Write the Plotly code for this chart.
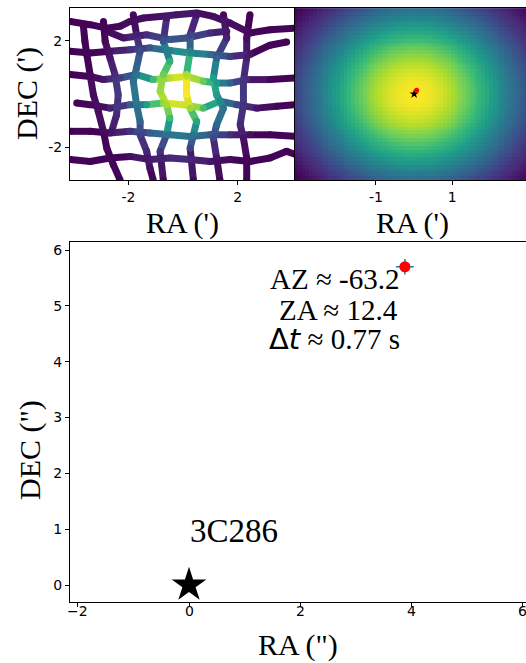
import numpy as np
import plotly.graph_objects as go
from plotly.colors import sample_colorscale

W, H = 526, 663

# ---------------- data ----------------
# scan tracks (arcmin)
ROW_A_RA = [-4.13, -3.40, -2.79, -2.30, -1.94, -1.45, -0.84, -0.23, 0.50, 1.11, 1.72, 2.45, 3.18, 4.13]
ROW_A_DEC = [2.72, 2.60, 2.47, 2.54, 2.72, 2.85, 2.91, 2.97, 3.04, 2.91, 2.66, 2.29, 2.41, 2.47]
ROW_B_RA = [-2.79, -2.18, -1.33, -0.48, 0.13, 0.99, 1.60]
ROW_B_DEC = [2.35, 2.10, 2.22, 2.04, 2.10, 2.29, 2.35]
ROW_C_RA = [-4.13, -3.40, -2.67, -1.94, -1.21, -0.48, 0.26, 0.99, 1.72, 2.45, 3.18, 3.79]
ROW_C_DEC = [1.60, 1.54, 1.60, 1.66, 1.73, 1.63, 1.54, 1.48, 1.41, 1.48, 1.83, 1.95]
ROW_D_RA = [-4.13, -3.40, -2.91, -2.30, -1.70, -1.09, -0.48, 0.13, 0.74, 1.23, 1.72, 2.33, 3.18, 4.13]
ROW_D_DEC = [0.73, 0.66, 0.54, 0.60, 0.73, 0.54, 0.60, 0.66, 0.48, 0.41, 0.41, 0.54, 0.54, 0.60]
ROW_E_RA = [-3.89, -3.40, -2.67, -1.94, -1.33, -0.72, 0.01, 0.74, 1.35, 1.96, 2.70, 3.43, 4.13]
ROW_E_DEC = [-0.34, -0.40, -0.53, -0.40, -0.40, -0.34, -0.40, -0.53, -0.27, -0.40, -0.53, -0.46, -0.40]
ROW_F_RA = [-4.13, -3.40, -2.67, -1.94, -1.21, -0.48, 0.26, 0.99, 1.72, 2.45, 3.18, 4.13]
ROW_F_DEC = [-1.40, -1.40, -1.46, -1.40, -1.46, -1.53, -1.59, -1.53, -1.53, -1.53, -1.53, -1.59]
ROW_G_RA = [-4.13, -3.40, -2.67, -1.94, -1.21, -0.48, 0.26, 0.99, 1.72, 2.45, 3.18, 3.79, 4.13]
ROW_G_DEC = [-2.46, -2.53, -2.40, -2.34, -2.46, -2.40, -2.46, -2.53, -2.46, -2.53, -2.40, -2.15, -2.27]

COL_1_RA = [-3.65, -3.59, -3.52, -3.40, -3.28, -3.10, -2.91, -2.79, -2.55, -2.30]
COL_1_DEC = [2.60, 1.98, 1.48, 0.73, -0.03, -0.65, -1.40, -2.03, -2.65, -3.23]
COL_2_RA = [-2.91, -2.85, -2.67, -2.49, -2.37, -2.43, -2.61]
COL_2_DEC = [2.72, 1.98, 1.35, 0.73, -0.03, -0.78, -1.40]
COL_3_RA = [-1.82, -1.70, -1.57, -1.70, -1.82, -1.70, -1.57, -1.57, -1.33, -1.21, -1.09]
COL_3_DEC = [2.97, 2.22, 1.60, 0.98, 0.48, -0.40, -1.03, -1.53, -2.15, -2.78, -3.23]
COL_4_RA = [-0.60, -0.72, -0.48, -0.72, -0.84, -0.60, -0.48, -0.60, -0.84, -0.72]
COL_4_DEC = [2.85, 1.98, 1.23, 0.73, 0.10, -0.40, -0.90, -1.53, -2.15, -3.23]
COL_5_RA = [0.50, 0.26, 0.26, 0.13, 0.13, 0.26, 0.50, 0.38, 0.26, 0.38]
COL_5_DEC = [2.97, 2.22, 1.60, 0.73, -0.03, -0.53, -1.03, -1.53, -2.03, -3.23]
COL_6_RA = [1.48, 1.60, 1.23, 1.11, 1.23, 1.48, 1.23, 1.11, 1.23, 1.35]
COL_6_DEC = [2.97, 2.10, 1.35, 0.60, -0.03, -0.53, -1.15, -1.65, -2.40, -3.23]
COL_7_RA = [2.45, 2.33, 2.33, 2.21, 2.21, 2.09, 2.21, 2.33, 2.33]
COL_7_DEC = [2.97, 2.10, 1.35, 0.48, -0.40, -1.15, -1.65, -2.40, -3.23]

# beam model parameters (arcmin)
SCAN_BEAM_X0, SCAN_BEAM_Y0, SCAN_BEAM_SIGMA = -0.1, 0.1, 1.2
MAP_SIGMA_RA, MAP_SIGMA_DEC = 2.1, 1.8
MAP_RA = [round(-3.1 + 0.1 * i, 2) for i in range(63)]
MAP_DEC = [round(-2.2 + 0.1 * j, 2) for j in range(45)]

# fitted pointing offset (arcsec) and errors
OFF_RA = [3.89]
OFF_DEC = [5.70]
ERR_RA = [0.16]
ERR_DEC = [0.14]
SRC_NAME = "3C286"
AZ_TXT = "AZ ≈ -63.2"
ZA_TXT = "ZA ≈ 12.4"
DT_TXT = "0.77 s"

# tick labels
TOP_LEFT_TICKS = [-2, 2]
TOP_RIGHT_TICKS = [-1, 1]
BOTTOM_X_TICKS = [-2, 0, 2, 4, 6]
BOTTOM_Y_TICKS = [0, 1, 2, 3, 4, 5, 6]

# ---------------- helpers ----------------
def px(x):
    return x / W


def py(y):
    return 1 - y / H


fig = go.Figure()

# --- scan pattern (top-left) ---
tracks = [
    (ROW_A_RA, ROW_A_DEC), (ROW_B_RA, ROW_B_DEC), (ROW_C_RA, ROW_C_DEC), (ROW_D_RA, ROW_D_DEC),
    (ROW_E_RA, ROW_E_DEC), (ROW_F_RA, ROW_F_DEC), (ROW_G_RA, ROW_G_DEC),
    (COL_1_RA, COL_1_DEC), (COL_2_RA, COL_2_DEC), (COL_3_RA, COL_3_DEC), (COL_4_RA, COL_4_DEC),
    (COL_5_RA, COL_5_DEC), (COL_6_RA, COL_6_DEC), (COL_7_RA, COL_7_DEC),
]


def beam(x, y):
    return np.exp(-((x - SCAN_BEAM_X0) ** 2 + (y - SCAN_BEAM_Y0) ** 2) / (2 * SCAN_BEAM_SIGMA ** 2))


segs = []
pts_x, pts_y, pts_v = [], [], []
for xs_, ys_ in tracks:
    p = list(zip(xs_, ys_))
    for (x0, y0), (x1, y1) in zip(p[:-1], p[1:]):
        segs.append((x0, y0, x1, y1, beam((x0 + x1) / 2, (y0 + y1) / 2)))
    for x, y in p:
        pts_x.append(x)
        pts_y.append(y)
        pts_v.append(beam(x, y))

vmin = min(min(s[4] for s in segs), min(pts_v))
vmax = max(max(s[4] for s in segs), max(pts_v))
NB = 40
bins = [[] for _ in range(NB)]
for s in segs:
    t = (s[4] - vmin) / (vmax - vmin)
    bins[min(NB - 1, int(t * NB))].append(s)
for b, ss in enumerate(bins):
    if not ss:
        continue
    xs, ys = [], []
    for x0, y0, x1, y1, _ in ss:
        xs += [x0, x1, None]
        ys += [y0, y1, None]
    col = sample_colorscale("Viridis", [(b + 0.5) / NB])[0]
    fig.add_trace(go.Scatter(x=xs, y=ys, mode="lines", line=dict(color=col, width=7),
                             xaxis="x", yaxis="y", showlegend=False, hoverinfo="skip"))
fig.add_trace(go.Scatter(x=pts_x, y=pts_y, mode="markers",
                         marker=dict(size=7, color=pts_v, colorscale="Viridis", cmin=vmin, cmax=vmax,
                                     line=dict(width=0)),
                         xaxis="x", yaxis="y", showlegend=False, hoverinfo="skip"))

# --- beam map (top-right) ---
RAg, DECg = np.meshgrid(np.array(MAP_RA), np.array(MAP_DEC))
Z = np.exp(-RAg ** 2 / (2 * MAP_SIGMA_RA ** 2) - DECg ** 2 / (2 * MAP_SIGMA_DEC ** 2))
fig.add_trace(go.Heatmap(x=MAP_RA, y=MAP_DEC, z=Z, colorscale="Viridis", showscale=False,
                         zmin=float(Z.min()), zmax=float(Z.max()),
                         xaxis="x2", yaxis="y2", hoverinfo="skip"))
fig.add_trace(go.Scatter(x=[0], y=[0], mode="markers",
                         marker=dict(symbol="star", size=7, color="black"),
                         xaxis="x2", yaxis="y2", showlegend=False))
fig.add_trace(go.Scatter(x=[v / 60 for v in OFF_RA], y=[v / 60 for v in OFF_DEC], mode="markers",
                         marker=dict(size=5, color="red"),
                         xaxis="x2", yaxis="y2", showlegend=False))

# --- offset plot (bottom) ---
fig.add_trace(go.Scatter(x=[0], y=[0], mode="markers",
                         marker=dict(symbol="star", size=26, color="black"),
                         xaxis="x3", yaxis="y3", showlegend=False))
fig.add_trace(go.Scatter(x=OFF_RA, y=OFF_DEC, mode="markers",
                         marker=dict(size=11, color="red"),
                         error_x=dict(type="data", array=ERR_RA, color="#1f77b4", thickness=1.5, width=0),
                         error_y=dict(type="data", array=ERR_DEC, color="#1f77b4", thickness=1.5, width=0),
                         xaxis="x3", yaxis="y3", showlegend=False))

tickfont = dict(family="DejaVu Sans", size=14, color="black")
common = dict(showgrid=False, zeroline=False, ticks="outside", ticklen=4, tickwidth=1, tickcolor="black",
              showline=True, linecolor="black", linewidth=1, tickfont=tickfont, ticklabeloverflow="allow")


def hy(v):
    return str(v)


def mn(v):
    return ("−" + str(abs(v))) if v < 0 else str(v)


fig.update_layout(
    width=W, height=H, margin=dict(l=0, r=0, t=0, b=0),
    paper_bgcolor="white", plot_bgcolor="white",
    xaxis=dict(domain=[px(70), px(294)], range=[-4.135, 4.06], tickvals=TOP_LEFT_TICKS,
               ticktext=[hy(v) for v in TOP_LEFT_TICKS], mirror=True, anchor="y", **common),
    yaxis=dict(domain=[py(180), py(8)], range=[-3.225, 3.225], tickvals=TOP_LEFT_TICKS,
               ticktext=[hy(v) for v in TOP_LEFT_TICKS], mirror=True, anchor="x", **common),
    xaxis2=dict(domain=[px(295), 1], range=[-3.12, 2.93], tickvals=TOP_RIGHT_TICKS,
                ticktext=[hy(v) for v in TOP_RIGHT_TICKS], mirror=True, anchor="y2", **common),
    yaxis2=dict(domain=[py(180), py(8)], range=[-2.253, 2.253], showticklabels=False,
                anchor="x2", **{k: v for k, v in common.items() if k != "ticks"}, ticks=""),
    xaxis3=dict(domain=[px(70), 1], range=[-2.144, 6.072], tickvals=BOTTOM_X_TICKS,
                showticklabels=False, mirror=True, anchor="y3", **common),
    yaxis3=dict(domain=[py(601.7), py(242.3)], range=[-0.299, 6.138], tickvals=BOTTOM_Y_TICKS,
                ticktext=[mn(v) for v in BOTTOM_Y_TICKS], anchor="x3", **common),
)

serif = "Liberation Serif"
ann = []


def add_text(text, x, y, size, angle=0, xanchor="center"):
    ann.append(dict(text=text, x=px(x), y=py(y), xref="paper", yref="paper", showarrow=False,
                    xanchor=xanchor, yanchor="middle", textangle=angle,
                    font=dict(family=serif, size=size, color="black")))


# bottom x tick labels placed close to the axis, as in the reference
for v in BOTTOM_X_TICKS:
    ann.append(dict(text=mn(v), x=v, xref="x3", y=py(611), yref="paper", showarrow=False,
                    xanchor="center", yanchor="middle", font=tickfont))

add_text("RA (')", 182, 223, 30)
add_text("RA (')", 412, 223, 30)
add_text("DEC (')", 27, 94, 30, angle=-90)
add_text('RA (")', 298, 645, 30)
add_text('DEC (")', 30, 450, 30, angle=-90)
add_text(AZ_TXT, 334, 279, 29)
add_text(ZA_TXT, 338, 310, 29)
add_text("<span style='font-family:DejaVu Sans'>Δ<i>t</i></span> ≈ " + DT_TXT, 334, 339, 29)
add_text(SRC_NAME, 188, 531, 33, xanchor="left")
fig.update_layout(annotations=ann)

fig.write_html("out.html", config={"displayModeBar": False},
               post_script="document.body.style.margin='0px';")
